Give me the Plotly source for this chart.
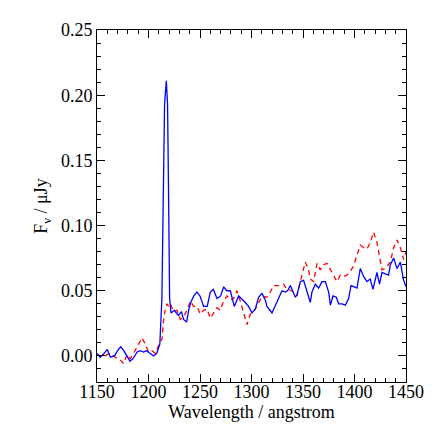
import plotly.graph_objects as go

# wavelength grid and flux (blue, solid)
wl_blue = [1150, 1153, 1157, 1160, 1163, 1167, 1170, 1173, 1176, 1179, 1182, 1185,
           1189, 1192, 1195, 1198, 1201, 1205, 1208, 1211, 1213, 1214.7, 1215.6,
           1217.3, 1218.5, 1219.5, 1220.5, 1221.8, 1225, 1229, 1232, 1234, 1237,
           1239, 1241, 1244, 1247, 1250, 1253.5, 1257, 1260, 1263, 1266.5, 1270,
           1273, 1276, 1279.4, 1283.3, 1287.5, 1294, 1297.2, 1300.5, 1303.7,
           1306.9, 1310.2, 1313.4, 1315, 1319.9, 1324.8, 1329.6, 1332.8, 1335,
           1337.7, 1340.9, 1342.5, 1344.2, 1347.4, 1350.6, 1353.9, 1357.1, 1358.7,
           1362, 1365.2, 1368.4, 1371.7, 1374.9, 1376.6, 1379.1, 1382.3, 1384.6,
           1387.9, 1391.1, 1394.3, 1396.6, 1399.8, 1402.4, 1405.6, 1408.8, 1412.1,
           1415.3, 1417.9, 1421.8, 1424.3, 1426.7, 1429.9, 1433.1, 1434.8, 1438,
           1441.3, 1444.5, 1447.7, 1450]
flux_blue = [0.002, -0.001, 0.002, 0.005, -0.001, 0.000, 0.004, 0.007, 0.004, 0.000,
             -0.004, -0.002, 0.003, 0.004, 0.003, 0.004, 0.002, 0.000, 0.002, 0.009,
             0.044, 0.148, 0.193, 0.211, 0.193, 0.122, 0.044, 0.033, 0.035, 0.031,
             0.034, 0.028, 0.026, 0.035, 0.041, 0.046, 0.049, 0.046, 0.038, 0.038,
             0.049, 0.051, 0.044, 0.046, 0.053, 0.050, 0.050, 0.038, 0.046, 0.041,
             0.038, 0.033, 0.036, 0.045, 0.048, 0.043, 0.038, 0.033, 0.041, 0.050,
             0.049, 0.050, 0.054, 0.047, 0.045, 0.047, 0.057, 0.058, 0.050, 0.041,
             0.049, 0.055, 0.052, 0.057, 0.057, 0.049, 0.039, 0.046, 0.045, 0.040,
             0.040, 0.039, 0.044, 0.054, 0.053, 0.052, 0.067, 0.061, 0.057, 0.059,
             0.051, 0.064, 0.055, 0.064, 0.063, 0.062, 0.070, 0.075, 0.067, 0.072,
             0.058, 0.053]

# second spectrum (red, dashed)
wl_red = [1150, 1153.2, 1156.4, 1159.7, 1162.9, 1166.1, 1169.4, 1172.6, 1175.8,
          1179.1, 1182.3, 1185.5, 1188.8, 1193.7, 1196.9, 1200.1, 1203.4, 1206.6,
          1209.8, 1213.1, 1214.7, 1216.3, 1218, 1219.5, 1221.2, 1224.4, 1227.7,
          1230.9, 1234.1, 1237.4, 1240.6, 1243.8, 1247.1, 1250.3, 1253.5, 1256.8,
          1260, 1263.2, 1266.5, 1269.7, 1272.9, 1276.2, 1279.4, 1282.6, 1285.9,
          1289.1, 1292.3, 1295.6, 1298.8, 1302, 1305.3, 1310.2, 1315, 1318.3,
          1321.5, 1328, 1331.2, 1334.5, 1339.3, 1344.2, 1347.4, 1350.6, 1352.2,
          1355.4, 1357.1, 1360.3, 1363.6, 1366.8, 1370, 1373.3, 1376.5, 1379.7,
          1383, 1386.2, 1389.4, 1392.7, 1395.9, 1399.1, 1402.4, 1405.6, 1408.8,
          1412.1, 1415.3, 1418.5, 1421.8, 1425, 1426.7, 1429.9, 1434.8, 1438,
          1441.3, 1444.5, 1447.7, 1450]
flux_red = [0.001, 0.000, -0.001, 0.001, 0.002, 0.000, -0.002, -0.003, -0.006,
            0.001, -0.002, 0.002, 0.007, 0.014, 0.009, 0.003, 0.004, 0.002, 0.008,
            0.013, 0.028, 0.036, 0.040, 0.038, 0.040, 0.034, 0.035, 0.028, 0.030,
            0.035, 0.042, 0.038, 0.038, 0.032, 0.035, 0.036, 0.029, 0.033, 0.037,
            0.035, 0.042, 0.046, 0.043, 0.044, 0.050, 0.042, 0.032, 0.024, 0.032,
            0.034, 0.038, 0.046, 0.045, 0.049, 0.054, 0.054, 0.055, 0.051, 0.050,
            0.046, 0.057, 0.067, 0.072, 0.066, 0.059, 0.057, 0.071, 0.066, 0.070,
            0.071, 0.066, 0.062, 0.057, 0.062, 0.061, 0.062, 0.065, 0.069, 0.078,
            0.085, 0.083, 0.082, 0.087, 0.095, 0.087, 0.074, 0.066, 0.067, 0.072,
            0.083, 0.089, 0.083, 0.074, 0.080]

x_ticks = [1150, 1200, 1250, 1300, 1350, 1400, 1450]
y_ticks = [0.00, 0.05, 0.10, 0.15, 0.20, 0.25]

fig = go.Figure()
fig.add_trace(go.Scatter(x=wl_red, y=flux_red, mode="lines",
                         line=dict(color="#ff0000", width=1.3, dash="5px,4px")))
fig.add_trace(go.Scatter(x=wl_blue, y=flux_blue, mode="lines",
                         line=dict(color="#0000ff", width=1.3)))

axis_common = dict(
    showline=True, linecolor="black", linewidth=1, mirror="ticks",
    ticks="inside", ticklen=8, tickcolor="black", tickwidth=1,
    showgrid=False, zeroline=False,
    tickfont=dict(family="Liberation Serif", size=18, color="black"),
)

# page body has an 8px margin, so the figure is a bit smaller than the window
fig.update_layout(
    width=428, height=428,
    margin=dict(l=89, r=21, t=22, b=54),
    paper_bgcolor="white", plot_bgcolor="white",
    showlegend=False,
    font=dict(family="Liberation Serif", color="black"),
    xaxis=dict(axis_common, range=[1150, 1450], tickvals=x_ticks,
               ticklabelstandoff=-7,
               minor=dict(ticks="inside", ticklen=4, dtick=10, tick0=1150,
                          tickcolor="black", showgrid=False),
               title=dict(text="Wavelength / angstrom", font=dict(size=18), standoff=4)),
    yaxis=dict(axis_common, range=[-0.02, 0.25], tickvals=y_ticks, tickformat=".2f",
               minor=dict(ticks="inside", ticklen=4, dtick=0.01, tick0=0,
                          tickcolor="black", showgrid=False),
               title=dict(text="F<sub>ν</sub> / μJy", font=dict(size=18), standoff=8)),
)

fig.write_html("out.html")
